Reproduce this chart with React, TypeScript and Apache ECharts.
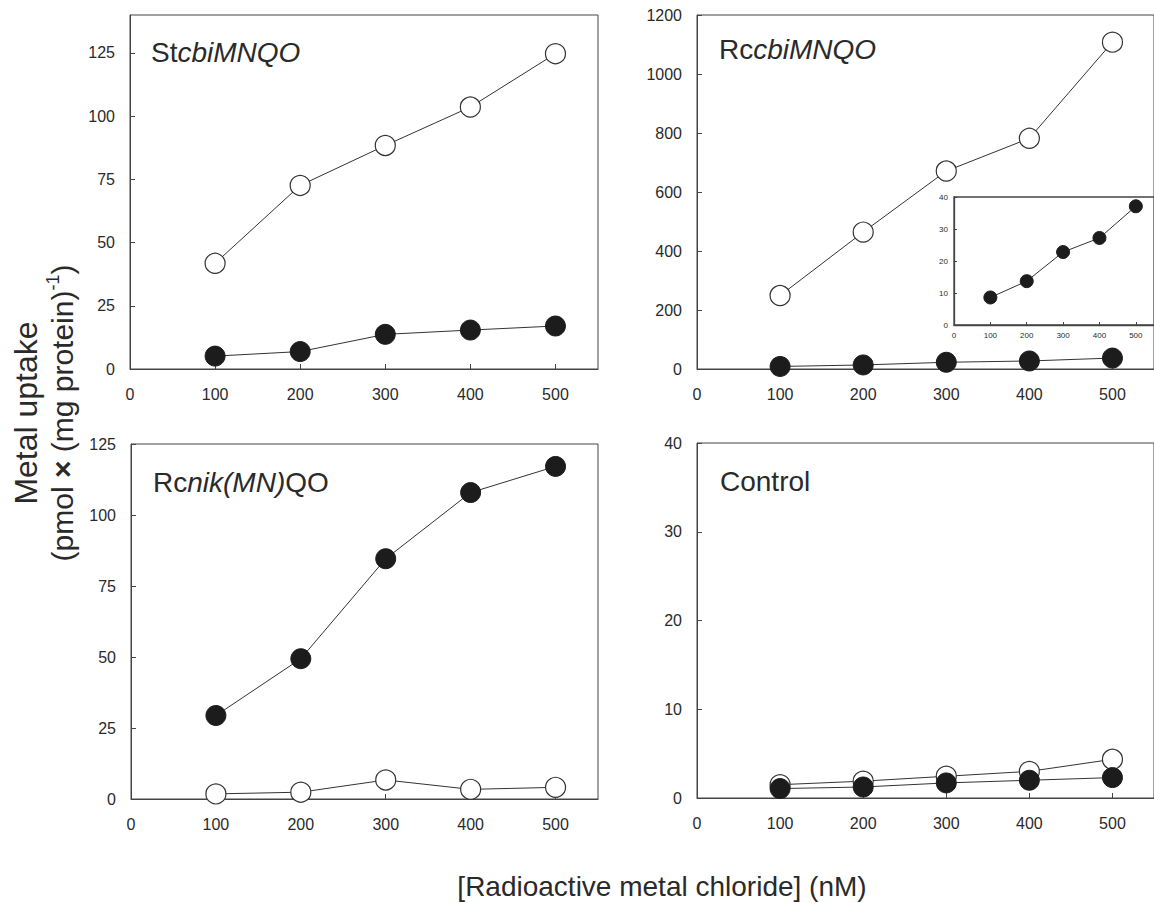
import React, { useEffect, useRef } from "react";
import * as echarts from "echarts";

const FONT = "'Liberation Sans', Arial, Helvetica, sans-serif";

// concentrations (nM)
const xValues = [100, 200, 300, 400, 500];
// StcbiMNQO
const stOpen = [41.8, 72.6, 88.4, 103.6, 124.7];
const stFilled = [5.1, 6.9, 13.7, 15.4, 17.0];
// RccbiMNQO
const rcOpen = [249, 464, 671, 782, 1108];
const rcFilled = [8.6, 13.7, 22.8, 27.2, 37.1];
// Rcnik(MN)QO
const nikFilled = [29.4, 49.4, 84.6, 107.9, 117.1];
const nikOpen = [1.8, 2.4, 6.7, 3.4, 4.1];
// Control
const ctrlOpen = [1.5, 1.9, 2.45, 3.0, 4.36];
const ctrlFilled = [1.06, 1.24, 1.7, 2.0, 2.3];

const LINE = "#444";
const TEXT = "#2a2a2a";

function pts(vals: number[]) {
  return xValues.map((x, i) => [x, vals[i]]);
}

const plain = (v: number) => String(v);

function xAx(gi: number, small = false) {
  return {
    type: "value",
    gridIndex: gi,
    min: 0,
    max: 550,
    interval: 100,
    axisLine: { show: true, onZero: false, lineStyle: { color: LINE, width: small ? 1.3 : 1 } },
    axisTick: { show: true, inside: true, length: small ? 3 : 5, lineStyle: { color: LINE } },
    axisLabel: {
      margin: small ? 6 : 17,
      fontSize: small ? 8 : 16,
      color: TEXT,
      fontFamily: FONT,
      showMaxLabel: false,
      formatter: plain,
    },
    splitLine: { show: false },
  };
}

function yAx(gi: number, max: number, interval: number, showMax: boolean, small = false) {
  return {
    type: "value",
    gridIndex: gi,
    min: 0,
    max,
    interval,
    axisLine: { show: true, onZero: false, lineStyle: { color: LINE, width: small ? 1.3 : 1 } },
    axisTick: { show: true, inside: true, length: small ? 3 : 5, lineStyle: { color: LINE } },
    axisLabel: {
      margin: small ? 6 : 15,
      fontSize: small ? 8 : 16,
      color: TEXT,
      fontFamily: FONT,
      showMaxLabel: showMax,
      formatter: plain,
    },
    splitLine: { show: false },
  };
}

function ser(gi: number, vals: number[], filled: boolean, size = 20) {
  return {
    type: "line",
    xAxisIndex: gi,
    yAxisIndex: gi,
    data: pts(vals),
    symbol: "circle",
    symbolSize: size,
    showSymbol: true,
    clip: false,
    lineStyle: { color: "#333", width: 1 },
    itemStyle: filled
      ? { color: "#1c1c1c", borderColor: "#1c1c1c", borderWidth: 1 }
      : { color: "#ffffff", borderColor: "#333", borderWidth: 1.2 },
    z: filled ? 3 : 2,
  };
}

function panelTitle(left: number, top: number, text: string) {
  return {
    text,
    left,
    top,
    padding: 0,
    textStyle: {
      fontWeight: "normal",
      rich: {
        n: { fontSize: 28, fontFamily: FONT, color: TEXT, fontWeight: "normal", lineHeight: 28 },
        i: { fontSize: 28, fontFamily: FONT, color: TEXT, fontWeight: "normal", fontStyle: "italic", lineHeight: 28 },
      },
    },
  };
}

export default function App() {
  const ref = useRef<HTMLDivElement>(null);
  useEffect(() => {
    if (!ref.current) return;
    const chart = echarts.init(ref.current, undefined, { renderer: "svg" });
    const gridBase = { show: true, borderColor: LINE, borderWidth: 1, backgroundColor: "transparent", containLabel: false };
    chart.setOption({
      animation: false,
      backgroundColor: "#ffffff",
      title: [
        panelTitle(151, 38, "{n|St}{i|cbiMNQO}"),
        panelTitle(719, 35, "{n|Rc}{i|cbiMNQO}"),
        panelTitle(153, 468, "{n|Rc}{i|nik(MN)}{n|QO}"),
        panelTitle(720, 467, "{n|Control}"),
      ],
      grid: [
        { ...gridBase, left: 130, top: 15, width: 468, height: 354 },
        { ...gridBase, left: 697, top: 15, width: 467.5, height: 354 },
        { ...gridBase, left: 131, top: 444, width: 467, height: 355 },
        { ...gridBase, left: 697, top: 443, width: 467.5, height: 355 },
        { ...gridBase, left: 954, top: 197, width: 202.4, height: 128, borderWidth: 1.3, backgroundColor: "#ffffff", z: 4 },
      ],
      xAxis: [xAx(0), xAx(1), xAx(2), xAx(3), { ...xAx(4, true), z: 5 }],
      yAxis: [
        yAx(0, 140, 25, false),
        yAx(1, 1200, 200, true),
        yAx(2, 125, 25, true),
        yAx(3, 40, 10, true),
        { ...yAx(4, 40, 10, true, true), z: 5 },
      ],
      series: [
        ser(0, stOpen, false),
        ser(0, stFilled, true),
        ser(1, rcOpen, false),
        ser(1, rcFilled, true),
        ser(2, nikOpen, false),
        ser(2, nikFilled, true),
        ser(3, ctrlOpen, false),
        ser(3, ctrlFilled, true),
        { ...ser(4, rcFilled, true, 13), z: 6 },
      ],
      graphic: [
        {
          type: "text",
          x: 26,
          y: 413,
          rotation: Math.PI / 2,
          style: {
            text: "Metal uptake",
            font: `32px ${FONT}`,
            fill: TEXT,
            align: "center",
            verticalAlign: "middle",
          },
        },
        {
          type: "text",
          x: 62,
          y: 413,
          rotation: Math.PI / 2,
          style: {
            text: "{b|(pmol }{x|×}{b| (mg protein)}{s|-1}{b|)}",
            fill: TEXT,
            align: "center",
            verticalAlign: "middle",
            rich: {
              b: { fontSize: 30, fontFamily: FONT, fill: TEXT, lineHeight: 36 },
              x: { fontSize: 30, fontFamily: FONT, fill: TEXT, fontWeight: "bold", lineHeight: 36 },
              s: { fontSize: 18, fontFamily: FONT, fill: TEXT, verticalAlign: "top", lineHeight: 36 },
            },
          },
        },
        {
          type: "text",
          x: 662,
          y: 886,
          style: {
            text: "[Radioactive metal chloride] (nM)",
            font: `28px ${FONT}`,
            fill: TEXT,
            align: "center",
            verticalAlign: "middle",
          },
        },
      ],
    });
    return () => chart.dispose();
  }, []);
  return (
    <div
      ref={ref}
      style={{ position: "absolute", left: 0, top: 0, width: 1154, height: 903 }}
    />
  );
}
